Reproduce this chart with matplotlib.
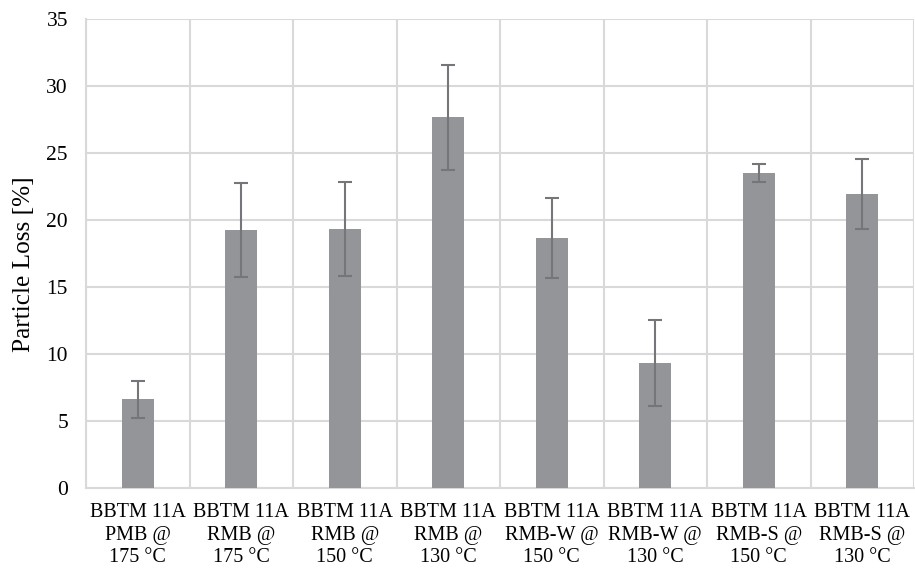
import numpy as np
import matplotlib
matplotlib.use('Agg')
import matplotlib.pyplot as plt

plt.rcParams['font.family'] = ['Liberation Serif', 'DejaVu Serif']

labels = ['BBTM 11A\nPMB @\n175 °C', 'BBTM 11A\nRMB @\n175 °C', 'BBTM 11A\nRMB @\n150 °C',
          'BBTM 11A\nRMB @\n130 °C', 'BBTM 11A\nRMB-W @\n150 °C', 'BBTM 11A\nRMB-W @\n130 °C',
          'BBTM 11A\nRMB-S @\n150 °C', 'BBTM 11A\nRMB-S @\n130 °C']
loss = [6.6, 19.25, 19.3, 27.65, 18.65, 9.3, 23.5, 21.95]
err = [1.4, 3.5, 3.5, 3.9, 3.0, 3.2, 0.7, 2.6]

fig = plt.figure(figsize=(9.15, 5.72), dpi=100)
ax = fig.add_axes([0.094, 0.147, 0.905, 0.82])

x = np.arange(len(labels))
ax.bar(x, loss, width=0.31, color='#939598', zorder=3)
ax.errorbar(x, loss, yerr=err, fmt='none', ecolor='#757679', elinewidth=1.5,
            capsize=5, capthick=1.5, zorder=4)

ax.set_xlim(-0.5, len(labels) - 0.5)
ax.set_ylim(0, 35)
ax.set_yticks(range(0, 36, 5))
ax.set_xticks(x)
ax.set_xticklabels(labels, fontsize=14.5, linespacing=1.25)
ax.set_xticks(np.arange(-0.5, len(labels), 1), minor=True)
ax.tick_params(axis='both', which='both', length=0)
ax.tick_params(axis='y', labelsize=15.5, pad=13)
ax.tick_params(axis='x', pad=11)

ax.grid(True, axis='y', color='#d9d9d9', linewidth=1.5, zorder=0)
ax.grid(True, axis='x', which='minor', color='#d9d9d9', linewidth=1.5, zorder=0)
for side in ['top', 'right']:
    ax.spines[side].set_visible(False)
for side in ['left', 'bottom']:
    ax.spines[side].set_color('#d9d9d9')
    ax.spines[side].set_linewidth(1.5)

ax.set_ylabel('Particle Loss [%]', fontsize=18.2)
ax.yaxis.set_label_coords(-0.062, 0.478)

fig.savefig('out.png', dpi=100)
